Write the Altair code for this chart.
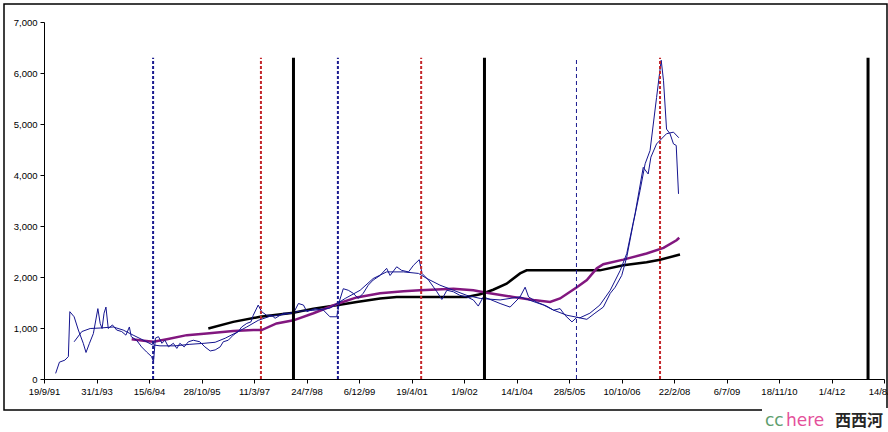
import altair as alt
import pandas as pd

# ---------------- data (dates as decimal years, values in index points) ----------------
raw_t = [1992.02, 1992.12, 1992.26, 1992.35, 1992.39, 1992.50, 1992.61, 1992.74, 1992.81, 1992.90,
         1993.00, 1993.12, 1993.18, 1993.23, 1993.28, 1993.33, 1993.39, 1993.50, 1993.61, 1993.74,
         1993.85, 1993.94, 1993.99, 1994.13, 1994.26, 1994.39, 1994.52, 1994.57, 1994.62, 1994.70,
         1994.79, 1994.87, 1994.96, 1995.09, 1995.18, 1995.26, 1995.37, 1995.48, 1995.61, 1995.78,
         1995.91, 1996.05, 1996.18, 1996.31, 1996.39, 1996.52, 1996.65, 1996.78, 1996.87, 1997.00,
         1997.11, 1997.17, 1997.30, 1997.39, 1997.52, 1997.65, 1997.74, 1997.96, 1998.22, 1998.35,
         1998.48, 1998.57, 1998.78, 1999.00, 1999.17, 1999.35, 1999.39, 1999.43, 1999.52, 1999.65,
         1999.78, 1999.91, 2000.04, 2000.17, 2000.30, 2000.48, 2000.65, 2000.74, 2000.91, 2001.04,
         2001.22, 2001.35, 2001.50, 2001.57, 2001.74, 2001.96, 2002.09, 2002.22, 2002.39, 2002.56,
         2002.74, 2002.91, 2003.04, 2003.17, 2003.35, 2003.61, 2003.87, 2004.13, 2004.26, 2004.35,
         2004.56, 2004.82, 2005.00, 2005.17, 2005.30, 2005.48, 2005.61, 2005.87, 2006.08, 2006.30,
         2006.48, 2006.61, 2006.78, 2006.91, 2007.08, 2007.26, 2007.39, 2007.52, 2007.69, 2007.81,
         2007.87, 2007.95, 2008.04, 2008.13, 2008.20, 2008.26]
raw_v = [110, 330, 370, 440, 1320, 1220, 960, 700, 520, 700,
         890, 1380, 1090, 990, 1290, 1410, 990, 1060, 960, 930,
         860, 1020, 830, 760, 630, 530, 440, 340, 800, 830,
         700, 760, 630, 700, 600, 700, 630, 730, 760, 730,
         630, 550, 570, 630, 730, 760, 860, 930, 1020, 1090,
         1120, 1250, 1450, 1320, 1250, 1250, 1190, 1290, 1290, 1480,
         1450, 1320, 1380, 1350, 1220, 1220, 1380, 1550, 1770, 1740,
         1680, 1580, 1680, 1840, 1940, 2030, 2170, 2030, 2200, 2130,
         2100, 2230, 2340, 2070, 1940, 1710, 1560, 1740, 1710, 1640,
         1610, 1550, 1430, 1610, 1560, 1480, 1410, 1610, 1800, 1610,
         1510, 1430, 1350, 1380, 1250, 1120, 1210, 1170, 1290, 1410,
         1680, 1800, 2030, 2390, 3050, 3700, 4220, 4480, 5520, 6250,
         5850, 4900, 4810, 4610, 4580, 3630]

ma_t = [1992.50, 1992.70, 1992.92, 1993.18, 1993.52, 1993.78, 1994.04, 1994.31, 1994.54, 1994.74,
        1995.13, 1995.52, 1995.89, 1996.18, 1996.44, 1996.70, 1997.00, 1997.30, 1997.61, 1998.00,
        1998.39, 1998.78, 1999.17, 1999.57, 1999.96, 2000.30, 2000.65, 2001.09, 2001.48, 2001.70,
        2002.04, 2002.39, 2002.74, 2003.09, 2003.61, 2004.13, 2004.74, 2005.00, 2005.35, 2005.69,
        2005.95, 2006.21, 2006.48, 2006.74, 2006.91, 2007.13, 2007.34, 2007.47, 2007.54, 2007.69,
        2007.95, 2008.13, 2008.27]
ma_v = [730, 930, 990, 1000, 1020, 960, 860, 760, 670, 650,
        650, 680, 700, 720, 800, 900, 1020, 1150, 1230, 1270,
        1330, 1350, 1390, 1580, 1740, 1970, 2100, 2100, 2070, 1970,
        1840, 1740, 1640, 1580, 1550, 1610, 1450, 1350, 1250, 1200,
        1290, 1450, 1740, 2130, 2460, 3250, 4150, 4020, 4350, 4610,
        4810, 4840, 4730]

purple_t = [1994.00, 1994.32, 1994.57, 1994.92, 1995.44, 1995.96, 1996.65, 1997.17, 1997.39, 1997.78,
            1998.22, 1998.74, 1999.39, 1999.87, 2000.48, 2001.09, 2001.52, 2002.39, 2002.91, 2003.26,
            2003.95, 2004.48, 2004.91, 2005.17, 2005.61, 2005.87, 2006.13, 2006.30, 2006.82, 2007.43,
            2007.87, 2008.21, 2008.28]
purple_v = [780, 750, 730, 780, 860, 890, 940, 960, 960, 1090,
            1150, 1290, 1480, 1600, 1680, 1720, 1740, 1770, 1740, 1690,
            1610, 1550, 1510, 1580, 1800, 1940, 2170, 2250, 2340, 2460,
            2570, 2720, 2770]

black_t = [1996.00, 1996.65, 1997.35, 1998.22, 1998.74, 1999.39, 1999.87, 2000.48, 2000.91, 2002.74,
           2003.09, 2003.43, 2003.78, 2004.13, 2004.30, 2006.21, 2006.82, 2007.43, 2007.78, 2008.30]
black_v = [990, 1120, 1220, 1300, 1380, 1450, 1510, 1580, 1610, 1610,
           1660, 1750, 1870, 2070, 2130, 2130, 2230, 2290, 2340, 2440]

bottom_t = [1994.56, 1999.38]        # thick blue dashed markers
bottom_thin_t = [2005.60]            # thin blue dashed marker
peak_t = [1997.37, 2001.55, 2007.78] # red dashed markers
term_t = [1998.22, 2003.20, 2013.20] # black solid markers
RULE_TOP = 6300

x_ticks = ["1991-09-19", "1993-01-31", "1994-06-15", "1995-10-28", "1997-03-11", "1998-07-24",
           "1999-12-06", "2001-04-19", "2002-09-01", "2004-01-14", "2005-05-28", "2006-10-10",
           "2008-02-22", "2009-07-06", "2010-11-18", "2012-04-01", "2013-08-14"]
y_ticks = [0, 1000, 2000, 3000, 4000, 5000, 6000, 7000]


def ydate(y):
    yr = int(y)
    s = pd.Timestamp(year=yr, month=1, day=1)
    e = pd.Timestamp(year=yr + 1, month=1, day=1)
    return (s + (e - s) * (y - yr)).normalize()


def frame(ts, vs):
    return pd.DataFrame({"date": [ydate(t) for t in ts], "value": vs})


tick_values = [alt.DateTime(year=int(d[:4]), month=int(d[5:7]), date=int(d[8:10])) for d in x_ticks]

FONT = "Arial, Liberation Sans"
x_enc = alt.X(
    "date:T",
    scale=alt.Scale(domain=[tick_values[0], tick_values[-1]], nice=False),
    axis=alt.Axis(values=tick_values, format="%-d/%-m/%y", title=None, grid=False,
                  labelFont=FONT, labelFontSize=9.5, labelColor="#000", tickColor="#000",
                  domainColor="#000", tickSize=4, labelPadding=3, labelFlush=False,
                  labelOverlap=False),
)
y_enc = alt.Y(
    "value:Q",
    scale=alt.Scale(domain=[0, 7000], nice=False, zero=True),
    axis=alt.Axis(values=y_ticks, format=",.0f", title=None, grid=False,
                  labelFont=FONT, labelFontSize=9.5, labelColor="#000", tickColor="#000",
                  domainColor="#000", tickSize=4, labelPadding=3),
)


def line_layer(ts, vs, color, width):
    return alt.Chart(frame(ts, vs)).mark_line(color=color, strokeWidth=width).encode(
        x=x_enc, y=y_enc, order=alt.Order("date:T"))


def rule_layer(ts, color, width, dash=None):
    df = pd.DataFrame({"date": [ydate(t) for t in ts], "value": [0] * len(ts),
                       "top": [RULE_TOP] * len(ts)})
    kw = dict(color=color, strokeWidth=width)
    if dash:
        kw["strokeDash"] = dash
    return alt.Chart(df).mark_rule(**kw).encode(x=x_enc, y=y_enc, y2=alt.Y2("top:Q"))


one = pd.DataFrame({"k": [0]})

border = alt.Chart(one).mark_rect(fillOpacity=0, stroke="#000", strokeWidth=1.5).encode(
    x=alt.value(-40), x2=alt.value(843), y=alt.value(-18), y2=alt.value(388))
wm_box = alt.Chart(one).mark_rect(color="white").encode(
    x=alt.value(718), x2=alt.value(850), y=alt.value(386), y2=alt.value(412))
wm_cc = alt.Chart(one).mark_text(align="left", baseline="alphabetic", font="DejaVu Sans",
                                 fontSize=17, color="#5e9e6e").encode(
    x=alt.value(721), y=alt.value(404), text=alt.value("cc"))
wm_here = alt.Chart(one).mark_text(align="left", baseline="alphabetic", font="DejaVu Sans",
                                   fontSize=17, color="#e4509a").encode(
    x=alt.value(742), y=alt.value(404), text=alt.value("here"))
wm_cn = alt.Chart(one).mark_text(align="left", baseline="alphabetic", font="Noto Sans CJK SC",
                                 fontSize=16, fontWeight="bold", color="#262626").encode(
    x=alt.value(791), y=alt.value(404), text=alt.value("西西河"))

chart = alt.layer(
    border,
    line_layer(black_t, black_v, "#000000", 2.5),
    line_layer(purple_t, purple_v, "#82177f", 2.5),
    line_layer(ma_t, ma_v, "#14148f", 1),
    line_layer(raw_t, raw_v, "#14148f", 1),
    rule_layer(bottom_t, "#1a1a8f", 2, [3, 2]),
    rule_layer(bottom_thin_t, "#1a1a8f", 1, [4, 3]),
    rule_layer(peak_t, "#c4262b", 2, [3, 2]),
    rule_layer(term_t, "#000000", 3),
    wm_box, wm_cc, wm_here, wm_cn,
).properties(
    width=840, height=357,
    padding={"left": 44, "top": 22, "right": 4, "bottom": 53},
    autosize=alt.AutoSizeParams(type="none"),
    background="white",
).configure_view(strokeWidth=0)

chart.save("out.html", embed_options={"renderer": "svg", "actions": False})
